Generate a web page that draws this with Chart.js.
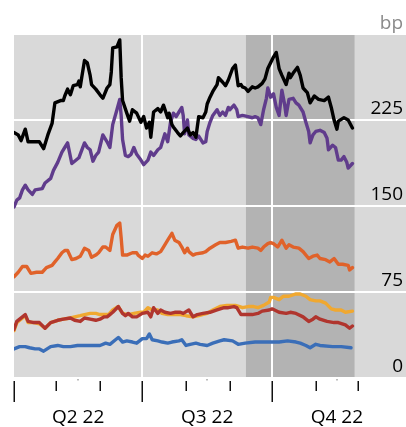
<!DOCTYPE html>
<html><head><meta charset="utf-8">
<script src="https://cdn.jsdelivr.net/npm/chart.js@4.4.1/dist/chart.umd.min.js"></script>
<style>html,body{margin:0;padding:0;background:#fff;}#wrap{width:406px;height:427px;}</style>
</head><body><div id="wrap"><canvas id="c" width="406" height="427"></canvas></div>
<script>
// x values are days since 1 Apr 2022
const quarterLabels = ['Q2 22', 'Q3 22', 'Q4 22'];
const quarterMidDays = [45.5, 137, 229];
const quarterStartDays = [0, 91, 183];
const monthStartDays = [30, 61, 122, 153, 214, 244];
const shadeRange = [164.5, 241.5];
const yTicks = [0, 75, 150, 225, 300];
const unitLabel = 'bp';

const blackDays = [0,3,5,8,10,13,18,21,24,27,29,33,35,36,38,40,42,45,46,47,48,50,52,54,55,58,61,63,66,68,69,70,73,75,76,77,80,82,84,87,90,92,94,96,97,99,102,104,106,109,110,112,113,116,118,120,123,125,127,129,131,134,136,137,139,141,144,145,148,150,152,155,157,159,161,162,164,166,169,171,173,176,178,180,182,184,186,188,190,193,195,196,198,201,203,205,208,210,213,216,220,223,225,227,229,230,234,237,240];
const blackVals = [214,212,207,217,206,206,206,200,212,222,240,242,242,246,252,247,255,256,259,254,262,277,275,264,256,252,247,244,253,256,267,288,289,295,262,242,231,224,234,231,223,228,218,223,210,232,235,232,238,227,231,221,219,214,211,214,218,212,214,210,228,227,232,239,245,250,256,262,258,255,260,270,273,255,256,254,253,250,254,253,254,257,261,270,275,280,284,270,264,256,266,262,266,271,264,253,249,240,246,243,242,245,236,225,217,224,227,225,218];

const purpleDays = [0,2,4,6,8,10,13,15,20,22,26,28,31,34,36,38,41,43,46,50,52,54,56,58,60,63,66,68,70,73,75,76,77,79,81,83,85,87,90,92,95,97,99,102,104,107,109,111,113,115,117,119,120,121,123,124,127,129,131,134,136,137,139,141,144,146,148,150,152,153,156,158,159,162,166,169,171,173,175,177,179,180,182,184,186,188,190,192,193,195,198,200,202,205,207,209,210,212,214,217,220,222,223,226,228,230,232,234,236,237,240];
const purpleVals = [149,155,157,164,168,164,160,164,165,170,174,181,188,197,201,205,187,189,192,205,201,199,189,194,197,212,206,201,221,234,243,229,208,194,193,195,201,195,190,186,190,197,194,199,201,213,206,223,231,228,232,236,229,213,225,212,209,208,211,205,206,215,223,229,234,229,232,229,236,234,238,234,228,229,228,227,228,227,221,234,244,253,245,248,236,229,251,238,229,243,244,240,238,232,223,215,205,212,215,216,214,209,199,203,201,190,190,193,188,183,187];

const orangeDays = [0,3,6,9,12,16,20,23,27,29,31,34,36,38,41,44,47,50,53,55,58,60,63,65,68,70,73,75,76,77,80,84,87,88,91,93,95,98,101,104,106,109,111,112,114,117,119,121,123,124,127,129,134,136,139,143,146,150,154,157,159,162,166,169,173,175,177,180,182,184,187,190,193,195,198,202,205,209,212,215,217,221,224,227,230,233,237,238,240];
const orangeVals = [88,92,97,97,91,92,92,96,98,101,104,109,111,111,103,104,106,113,111,105,107,109,114,114,111,125,133,135,122,107,107,109,109,107,104,107,106,109,108,110,114,120,124,126,120,118,114,109,113,110,107,108,109,110,113,116,118,118,119,120,113,114,113,114,113,111,114,117,118,117,114,120,113,116,114,113,110,104,106,107,104,103,101,104,99,99,98,94,96];

const yellowDays = [0,2,6,8,10,14,18,22,26,31,35,40,43,47,50,54,58,61,65,67,70,74,77,81,85,90,92,95,98,102,105,109,113,118,122,127,131,137,141,146,151,157,160,162,166,170,173,177,181,182,184,188,191,195,200,203,207,210,214,217,221,225,228,232,235,240];
const yellowVals = [41,48,52,54,48,48,47,43,48,50,51,52,53,54,55,56,56,55,55,55,59,62,56,55,56,57,57,61,59,59,56,55,55,55,54,53,54,56,59,62,63,63,62,61,62,62,61,63,66,70,70,68,71,71,73,73,71,68,67,67,65,60,59,59,57,58];

const redDays = [0,2,6,8,10,14,18,22,26,31,35,40,43,47,50,54,58,61,64,66,68,70,74,77,79,81,84,87,91,95,97,99,102,104,107,111,114,118,120,124,127,130,134,139,144,149,152,156,158,161,166,169,173,176,181,183,188,193,196,200,205,209,212,214,217,222,227,230,235,238,240];
const redVals = [42,49,53,55,49,48,48,43,48,50,51,52,50,49,52,51,50,51,53,53,55,57,62,56,54,56,53,53,56,57,53,61,56,59,57,56,57,57,56,59,53,55,56,57,59,61,61,62,61,55,55,55,56,58,59,60,57,56,57,56,53,49,51,53,51,49,48,48,46,43,45];

const blueDays = [0,4,8,11,15,18,21,26,31,35,40,45,50,54,58,61,65,68,72,74,77,80,84,87,91,94,96,98,102,105,109,112,117,119,122,125,129,132,137,141,146,149,155,159,164,171,178,183,188,194,200,203,207,210,214,217,226,232,239];
const blueVals = [25,27,27,26,25,25,23,27,28,27,27,28,28,28,28,28,30,29,33,35,31,32,31,30,34,34,38,33,32,31,30,31,32,33,28,29,30,29,28,30,32,33,32,29,30,31,31,31,31,32,31,30,28,26,29,28,27,27,26];

const FONT = "'Open Sans', 'Noto Sans', sans-serif";
const pts = (days, vals) => days.map((d, i) => ({ x: d, y: vals[i] }));
const line = (label, days, vals, color, w) => ({
  label, data: pts(days, vals), borderColor: color, borderWidth: w,
  pointRadius: 0, tension: 0, fill: false, borderJoinStyle: 'round', borderCapStyle: 'round'
});

const decor = {
  id: 'decor',
  beforeDraw(chart) {
    const { ctx, chartArea: a, scales: { x } } = chart;
    ctx.save();
    ctx.fillStyle = '#d9d9d9';
    ctx.fillRect(a.left, a.top, a.right - a.left, a.bottom - a.top);
    const x0 = x.getPixelForValue(shadeRange[0]);
    const x1 = x.getPixelForValue(shadeRange[1]);
    ctx.fillStyle = '#b3b3b3';
    ctx.fillRect(x0, a.top, x1 - x0, a.bottom - a.top);
    ctx.restore();
  },
  afterDraw(chart) {
    const { ctx, chartArea: a, scales: { x } } = chart;
    ctx.save();
    ctx.strokeStyle = '#111';
    ctx.lineWidth = 1.5;
    const tick = (d, len) => {
      const px = Math.round(x.getPixelForValue(d)) + 0.25;
      ctx.beginPath();
      ctx.moveTo(px, a.bottom + 3.5);
      ctx.lineTo(px, a.bottom + 3.5 + len);
      ctx.stroke();
    };
    quarterStartDays.forEach(d => tick(d, 21));
    monthStartDays.forEach(d => tick(d, 10));
    ctx.restore();
  }
};

new Chart(document.getElementById('c'), {
  type: 'line',
  data: {
    datasets: [
      line('Black', blackDays, blackVals, '#000000', 3.4),
      line('Purple', purpleDays, purpleVals, '#603c8c', 3.4),
      line('Orange', orangeDays, orangeVals, '#e0622a', 3.4),
      line('Red', redDays, redVals, '#b0352e', 3.4),
      line('Yellow', yellowDays, yellowVals, '#f0a830', 3.4),
      line('Blue', blueDays, blueVals, '#3a6eb8', 3.4)
    ]
  },
  options: {
    responsive: false,
    animation: false,
    devicePixelRatio: 1,
    layout: { padding: { left: 14, top: 34.2, right: 0, bottom: 0 } },
    plugins: { legend: { display: false }, tooltip: { enabled: false } },
    scales: {
      x: {
        type: 'linear', min: 0, max: 278,
        afterBuildTicks: s => {
          s.ticks = [quarterMidDays[0], quarterStartDays[1], quarterMidDays[1], quarterStartDays[2], quarterMidDays[2]].map(v => ({ value: v }));
        },
        afterFit: s => { s.height = 49.5; },
        border: { display: false },
        grid: {
          drawOnChartArea: true,
          color: c => (c.tick && quarterStartDays.includes(c.tick.value)) ? '#ffffff' : 'rgba(0,0,0,0)',
          lineWidth: 2,
          tickLength: 3,
          tickColor: c => (c.tick && quarterMidDays.includes(c.tick.value)) ? '#777' : 'rgba(0,0,0,0)',
          tickWidth: 1
        },
        ticks: {
          autoSkip: false, maxRotation: 0, minRotation: 0,
          padding: 26,
          color: '#000',
          font: { family: FONT, size: 19 },
          callback: v => { const i = quarterMidDays.indexOf(v); return i >= 0 ? quarterLabels[i] : ''; }
        }
      },
      y: {
        position: 'right', min: 0, max: 300,
        afterBuildTicks: s => { s.ticks = yTicks.map(v => ({ value: v })); },
        afterFit: s => { s.width = 0; },
        border: { display: false },
        grid: { color: '#ffffff', lineWidth: 2, drawTicks: false },
        ticks: {
          mirror: true, padding: -3, labelOffset: -11,
          font: { family: FONT, size: 19 },
          color: c => c.tick.value === 300 ? '#8a8a8a' : '#000',
          callback: v => v === 300 ? unitLabel : String(v)
        }
      }
    }
  },
  plugins: [decor]
});
</script></body></html>
